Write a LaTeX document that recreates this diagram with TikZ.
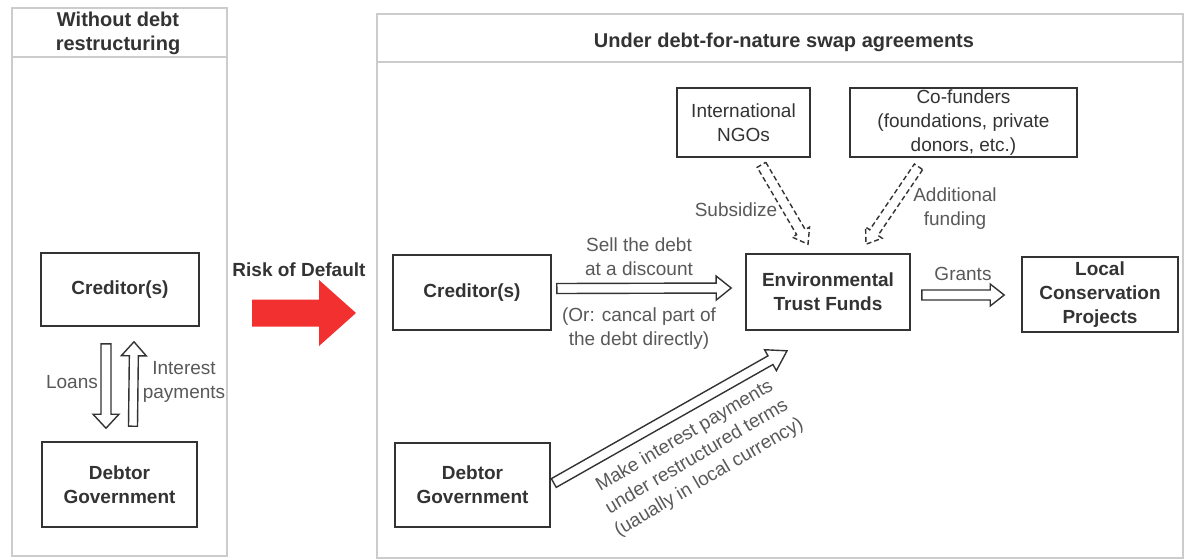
\documentclass[tikz,border=0pt]{standalone}
\usepackage{fontspec}
\setmainfont{Liberation Sans}
\usetikzlibrary{calc}
\definecolor{boxc}{HTML}{333333}
\definecolor{txt}{HTML}{333333}
\definecolor{lab}{HTML}{595959}
\definecolor{panel}{HTML}{CCCCCC}
\definecolor{redarr}{HTML}{F23030}
\newcommand\flexarr[6][]{%
  \coordinate (fa-h) at ($(#3)!#6!(#2)$);
  \draw[arrline,#1] ($(#2)!#4!90:(#3)$) -- ($(fa-h)!#4!-90:(#2)$) -- ($(fa-h)!#5!-90:(#2)$) -- (#3) -- ($(fa-h)!#5!90:(#2)$) -- ($(fa-h)!#4!90:(#2)$) -- ($(#2)!#4!-90:(#3)$) -- cycle;}
\tikzset{
  box/.style={draw=boxc, line width=1.6pt, fill=white, text=txt, align=center, inner sep=0pt,
    font=\fontsize{19}{24}\selectfont\bfseries},
  lbl/.style={text=lab, align=center, inner sep=0pt, font=\fontsize{19}{24}\selectfont},
  ttl/.style={text=txt, align=center, inner sep=0pt, font=\fontsize{20}{24}\selectfont\bfseries},
  panelbox/.style={draw=panel, line width=1.5pt},
  arrline/.style={draw=boxc, line width=1.4pt, fill=white, line join=miter},
  dasharr/.style={dash pattern=on 5pt off 3pt},
}
\begin{document}
\begin{tikzpicture}[x={(1pt,0)}, y={(0,-1pt)}]
\useasboundingbox[fill=white] (0,0) rectangle (1184,558);
% panels
\draw[panelbox] (12,8) rectangle (227,556);
\draw[panelbox] (12,57) -- (227,57);
\draw[panelbox] (377,14) rectangle (1183,558);
\draw[panelbox] (377,62) -- (1183,62);
\node[ttl] (t1) at (118,33) {Without debt\\restructuring};
\node[ttl] (t2) at (784,42) {Under debt-for-nature swap agreements};
% left boxes
\node[box, minimum width=158pt, minimum height=73pt] (credL) at (120,289.5) {Creditor(s)};
\node[box, minimum width=155pt, minimum height=85pt] (debtL) at (119.5,484.5) {Debtor\\Government};
\coordinate (loS) at ($(credL.south)+(-14,17)$);
\coordinate (loE) at ($(debtL.north)+(-13.5,-13)$);
\flexarr{loS}{loE}{5pt}{13pt}{14pt}
\coordinate (inS) at ($(debtL.north)+(13.5,-15)$);
\coordinate (inE) at ($(credL.south)+(14,15)$);
\flexarr{inS}{inE}{4.5pt}{12.5pt}{14pt}
\node[lbl] (lLoans) at (72,382) {Loans};
\node[lbl] (lInt) at (184,382) {Interest\\payments};
% risk of default
\node[ttl, font=\fontsize{19}{24}\selectfont\bfseries] (risk) at (299,270) {Risk of Default};
\coordinate (rS) at (252,313);
\coordinate (rE) at (356,313);
\flexarr[draw=none, fill=redarr]{rS}{rE}{13.5pt}{33pt}{37pt}
% right boxes
\node[box, minimum width=133pt, minimum height=69pt] (ngo) at (743.5,122.5) {\mdseries International\\\mdseries NGOs};
\node[box, minimum width=227pt, minimum height=69pt] (cof) at (963.5,122.5) {\mdseries Co-funders\\\mdseries (foundations, private\\\mdseries donors, etc.)};
\node[box, minimum width=158pt, minimum height=75pt] (credR) at (472,292.5) {Creditor(s)};
\node[box, minimum width=164pt, minimum height=76pt] (etf) at (828,292) {Environmental\\Trust Funds};
\node[box, minimum width=156pt, minimum height=75pt] (lcp) at (1100,294.5) {Local\\Conservation\\Projects};
\node[box, minimum width=155pt, minimum height=84pt] (debtR) at (472.5,485) {Debtor\\Government};
% sell arrow
\coordinate (seS) at ($(credR.east)+(5,-4)$);
\coordinate (seE) at ($(etf.west)+(-14,-4)$);
\flexarr{seS}{seE}{5pt}{12pt}{15pt}
\node[lbl] (lSell) at (639,257) {Sell the debt\\at a discount};
\node[lbl] (lOr) at (639,329) {(Or: cancal part of\\the debt directly)};
% grants
\coordinate (grS) at ($(etf.east)+(11,3)$);
\coordinate (grE) at ($(lcp.west)+(-17,0.5)$);
\flexarr{grS}{grE}{5pt}{11pt}{14pt}
\node[lbl] (lGr) at (963,274) {Grants};
% diagonal
\coordinate (diS) at ($(debtR.east)+(3,-2)$);
\coordinate (diE) at ($(etf.south)+(-41,20)$);
\flexarr{diS}{diE}{5pt}{12pt}{19pt}
\node[lbl, rotate=30.5] (lDi) at (697,457) {Make interest payments\\under restructured terms\\(uaually in local currency)};
% dashed
\coordinate (ngS) at ($(ngo.south)+(18,7)$);
\coordinate (ngE) at ($(etf.north)+(-20,-9)$);
\flexarr[dasharr]{ngS}{ngE}{5pt}{10pt}{14pt}
\node[lbl] (lSub) at (736,210) {Subsidize};
\coordinate (cfS) at ($(cof.south)+(-45,9)$);
\coordinate (cfE) at ($(etf.north)+(38,-9)$);
\flexarr[dasharr]{cfS}{cfE}{5pt}{10pt}{14pt}
\node[lbl] (lAdd) at (955,209) {Additional\\funding};
\end{tikzpicture}
\end{document}
